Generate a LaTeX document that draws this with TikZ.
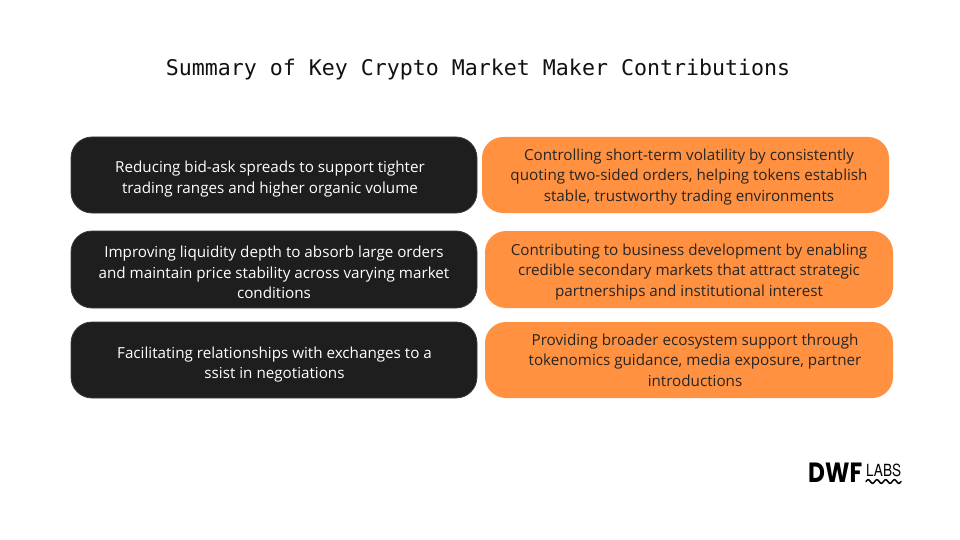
\documentclass[tikz,border=0pt]{standalone}
\usepackage{fontspec}
\setmainfont{Open Sans}
\newfontfamily\titlefont{DejaVu Sans Mono}
\newfontfamily\logofont{Poppins}
\newfontfamily\labsfont{TeX Gyre Heros}
\definecolor{darkbox}{HTML}{1E1E1E}
\definecolor{darkedge}{HTML}{3C3C3C}
\definecolor{orangebox}{HTML}{FF9141}
\definecolor{orangetext}{HTML}{262626}
\definecolor{titlecol}{HTML}{111111}
\tikzset{
  card/.style={rounded corners=21pt, inner sep=0pt},
  darkcard/.style={card, fill=darkbox, draw=darkedge, line width=0.8pt},
  orangecard/.style={card, fill=orangebox},
  cardtext/.style={align=center, inner sep=0pt, font=\fontsize{15.2}{20.5}\selectfont},
  darktext/.style={cardtext, text=white},
  orangetxt/.style={cardtext, text=orangetext},
}
\begin{document}
\begin{tikzpicture}[x=1pt,y=-1pt]
\useasboundingbox[fill=white] (0,0) rectangle (960,540);
\node[font=\titlefont\fontsize{21.6}{26}\selectfont, text=titlecol] (title) at (478,70) {Summary of Key Crypto Market Maker Contributions};

% cards
\node[darkcard, minimum width=406pt, minimum height=76pt] (l1) at (274,175) {};
\node[darkcard, minimum width=406pt, minimum height=77pt] (l2) at (274,269.5) {};
\node[darkcard, minimum width=406pt, minimum height=76pt] (l3) at (274,360) {};
\node[orangecard, minimum width=407pt, minimum height=76pt] (r1) at (685.5,175) {};
\node[orangecard, minimum width=408pt, minimum height=77pt] (r2) at (689,269.5) {};
\node[orangecard, minimum width=408pt, minimum height=76pt] (r3) at (689,360) {};

% texts
\node[darktext] (l1t) at (270,179) {Reducing bid-ask spreads to support tighter\\trading ranges and higher organic volume};
\node[darktext] (l2t) at (274,272.5) {Improving liquidity depth to absorb large orders\\and maintain price stability across varying market\\conditions};
\node[darktext] (l3t) at (274.5,364.5) {Facilitating relationships with exchanges to a\\ssist in negotiations};
\node[orangetxt] (r1t) at (689,177) {Controlling short-term volatility by consistently\\quoting two-sided orders, helping tokens establish\\stable, trustworthy trading environments};
\node[orangetxt] (r2t) at (689,272) {Contributing to business development by enabling\\credible secondary markets that attract strategic\\partnerships and institutional interest};
\node[orangetxt] (r3t) at (695,360) {Providing broader ecosystem support through\\tokenomics guidance, media exposure, partner\\introductions};

% logo
\node[anchor=south west, inner sep=0pt] (dwf) at (808,483) {\resizebox{54pt}{19.5pt}{\logofont\bfseries DWF}};
\node[anchor=south west, inner sep=0pt] (labs) at (866,476.5) {\resizebox{35pt}{12.5pt}{\labsfont LABS}};
\draw[line width=1.5pt, line cap=round, black, domain=0:35, samples=80] plot ({866+\x},{481.5-1.8*sin(\x/35*4*360)});
\end{tikzpicture}
\end{document}
